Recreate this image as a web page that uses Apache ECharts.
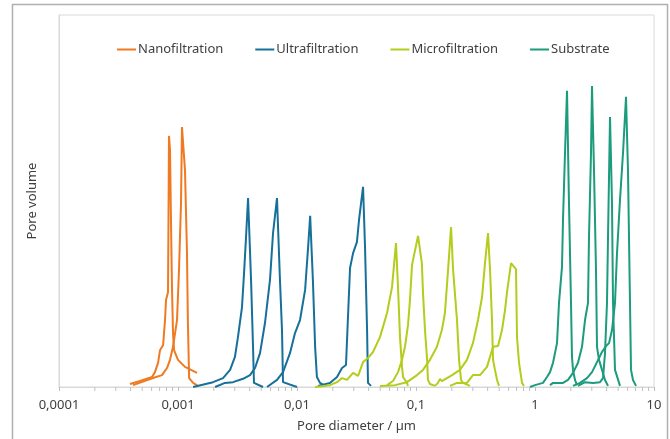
<!DOCTYPE html>
<html>
<head>
<meta charset="utf-8">
<script src="https://cdn.jsdelivr.net/npm/echarts@6/dist/echarts.min.js"></script>
<style>
  html, body { margin: 0; padding: 0; background: #fff; }
  #main { width: 670px; height: 439px; }
</style>
</head>
<body>
<div id="main"></div>
<script>
// [pore diameter in µm, pore volume (relative)]
var nano1 = [[0.000395,0.8],[0.00048,1.6],[0.000605,2.7],[0.00064,4.0],[0.00068,6.5],[0.000706,9.9],[0.00075,11.3],[0.000763,14.5],[0.000778,18.0],[0.000793,23.4],[0.000824,25.5],[0.000832,44.9],[0.00084,67.5],[0.000857,63.7],[0.000873,44.9],[0.00089,26.9],[0.000908,14.5],[0.000926,9.9],[0.001,7.3],[0.001145,5.4],[0.001445,3.8]];
var nano2 = [[0.000419,0.5],[0.000617,2.4],[0.000734,3.2],[0.000808,5.1],[0.000857,7.3],[0.000908,10.8],[0.000981,18.0],[0.00102,31.5],[0.00106,49.5],[0.00108,69.9],[0.001145,58.3],[0.00119,36.0],[0.00121,18.0],[0.00124,2.4],[0.00134,1.1],[0.00147,0.3]];

var ultra1 = [[0.00134,0],[0.00197,1.3],[0.00239,2.4],[0.00274,4.6],[0.00301,8.1],[0.00319,13.4],[0.00345,21.5],[0.00359,30.6],[0.00373,40.3],[0.00388,50.8],[0.00411,28.8],[0.00427,10.8],[0.00435,1.1],[0.00518,0]];
var ultra2 = [[0.00205,0],[0.00248,1.1],[0.0029,1.3],[0.00352,2.2],[0.00403,3.2],[0.00444,5.1],[0.00489,9.1],[0.00538,17.2],[0.00593,28.8],[0.00629,41.4],[0.00679,50.8],[0.00719,28.8],[0.00748,15.3],[0.00763,1.3],[0.01,0]];
var ultra3 = [[0.0056,0],[0.00679,1.9],[0.00763,4.0],[0.00873,9.1],[0.00962,14.5],[0.0106,18.0],[0.0117,26.1],[0.0124,37.6],[0.0129,46.0],[0.0136,28.8],[0.0142,10.8],[0.0147,2.7],[0.0156,1.1],[0.0172,0.3]];
var ultra4 = [[0.015,0.3],[0.0189,1.1],[0.0217,2.7],[0.0239,5.1],[0.0258,5.9],[0.0279,32.0],[0.0296,36.0],[0.0319,39.0],[0.0332,44.9],[0.0359,53.8],[0.0373,37.6],[0.0388,15.3],[0.0395,1.1],[0.0419,0.3]];

var micro1 = [[0.0142,0],[0.0189,0.5],[0.0217,1.3],[0.0239,2.4],[0.0263,1.9],[0.0296,3.8],[0.0326,3.0],[0.0359,6.7],[0.0395,7.8],[0.0435,9.4],[0.0498,13.4],[0.0571,19.9],[0.0629,26.9],[0.0679,38.7],[0.0706,26.9],[0.0734,13.4],[0.0763,5.4],[0.0778,2.7],[0.084,1.1],[0.0857,0.3]];
var micro2 = [[0.0571,0.5],[0.0641,1.6],[0.0706,4.0],[0.0763,7.3],[0.0808,10.8],[0.0857,16.7],[0.089,23.4],[0.0926,32.8],[0.0944,34.1],[0.104,40.6],[0.112,33.3],[0.1145,25.3],[0.119,15.3],[0.124,7.3],[0.126,1.9],[0.131,0.8],[0.1445,0.3]];
var micro3 = [[0.0498,0.3],[0.0666,0.5],[0.084,1.3],[0.102,3.2],[0.1145,4.6],[0.131,7.3],[0.150,10.8],[0.165,15.3],[0.175,19.9],[0.186,31.5],[0.197,43.0],[0.205,31.5],[0.221,18.0],[0.230,7.3],[0.239,1.9],[0.248,1.1],[0.284,0.3]];
var micro4 = [[0.1445,0.3],[0.153,1.1],[0.159,2.2],[0.165,1.6],[0.182,2.4],[0.201,3.2],[0.234,4.6],[0.268,7.3],[0.301,11.8],[0.332,18.0],[0.359,24.2],[0.380,33.3],[0.403,41.4],[0.419,31.5],[0.435,18.0],[0.444,7.3],[0.461,4.6],[0.48,1.9],[0.498,0.3]];
var micro5 = [[0.193,0.3],[0.221,1.1],[0.268,1.1],[0.301,3.2],[0.345,3.2],[0.395,5.4],[0.444,10.8],[0.489,11.0],[0.528,15.3],[0.560,20.7],[0.582,25.5],[0.629,33.3],[0.692,31.7],[0.706,13.4],[0.734,6.5],[0.778,1.1],[0.808,0.3]];

var sub1 = [[0.908,0],[1.0,0.5],[1.167,1.1],[1.261,2.7],[1.337,4.0],[1.417,6.5],[1.531,11.8],[1.591,22.6],[1.686,32.3],[1.719,44.9],[1.787,62.9],[1.858,79.6],[1.93,49.5],[2.007,22.6],[2.046,8.1],[2.086,4.6],[2.168,1.9],[2.254,0.5]];
var sub2 = [[1.337,0.5],[1.417,1.1],[1.719,1.1],[1.894,1.9],[2.086,3.8],[2.298,6.5],[2.483,10.8],[2.632,18.0],[2.789,22.6],[2.843,40.3],[2.955,62.9],[3.013,80.9],[3.132,58.3],[3.255,31.5],[3.319,10.8],[3.45,7.3],[3.656,4.6],[3.875,1.9],[4.107,0.3]];
var sub3 = [[2.298,0.3],[2.632,1.3],[3.072,1.1],[3.517,1.3],[3.728,2.4],[3.875,9.1],[4.027,22.6],[4.107,40.3],[4.269,72.6],[4.437,49.5],[4.524,22.6],[4.702,4.6],[5.18,0.3]];
var sub4 = [[2.086,0.3],[2.389,1.1],[2.735,2.4],[3.013,4.0],[3.319,6.7],[3.656,9.4],[3.95,11.0],[4.19,11.8],[4.437,15.3],[4.702,22.6],[4.888,36.0],[5.18,50.3],[5.49,62.9],[5.818,78.0],[6.045,58.3],[6.285,22.6],[6.409,4.6],[6.66,1.9],[7.06,0.3]];

var groups = ['Nanofiltration', 'Ultrafiltration', 'Microfiltration', 'Substrate'];
var colors = ['#ef7a22', '#17709a', '#b4cc1c', '#1c9b7d'];
var curves = [[nano1, nano2], [ultra1, ultra2, ultra3, ultra4], [micro1, micro2, micro3, micro4, micro5], [sub1, sub2, sub3, sub4]];
var xTickLabels = ['0,0001', '0,001', '0,01', '0,1', '1', '10'];
var decades = [0.0001, 0.001, 0.01, 0.1, 1];
var minorSteps = [2, 3, 4, 5, 6, 7, 8, 9];

var minorTicks = [];
decades.forEach(function (d) {
	minorSteps.forEach(function (m) { minorTicks.push([+(d * m).toPrecision(3)]); });
});

var series = [];
curves.forEach(function (list, i) {
	list.forEach(function (data) {
		series.push({
			name: groups[i],
			type: 'line',
			data: data,
			showSymbol: false,
			symbol: 'none',
			color: colors[i],
			lineStyle: { width: 2, color: colors[i] },
			silent: true
		});
	});
});

// log-spaced minor ticks below the x axis
series.push({
	type: 'custom',
	name: 'ticks',
	data: minorTicks,
	silent: true,
	clip: false,
	renderItem: function (params, api) {
		var p = api.coord([api.value(0), 0]);
		return {
			type: 'line',
			shape: { x1: p[0], y1: p[1], x2: p[0], y2: p[1] + 4 },
			style: { stroke: '#bfbfbf', lineWidth: 1 }
		};
	}
});

var myChart = echarts.init(document.getElementById('main'));
var option = {
	animation: false,
	textStyle: { fontFamily: 'Noto Sans' },
	graphic: [{
		type: 'rect',
		shape: { x: 12.5, y: 4.5, width: 655, height: 460 },
		style: { fill: 'none', stroke: '#b0b0b0', lineWidth: 1.5 },
		silent: true
	}],
	legend: {
		data: groups,
		top: 43,
		left: 117,
		padding: 0,
		itemGap: 32,
		itemWidth: 19,
		itemHeight: 2,
		icon: 'rect',
		textStyle: { fontSize: 13, color: '#404040', fontFamily: 'Noto Sans', padding: [0, 0, 0, -3] }
	},
	grid: {
		left: 59,
		right: 16,
		top: 15,
		bottom: 52,
		show: true,
		borderColor: '#d9d9d9',
		borderWidth: 1,
		containLabel: false
	},
	xAxis: {
		type: 'log',
		logBase: 10,
		min: 0.0001,
		max: 10,
		name: 'Pore diameter / µm',
		nameLocation: 'middle',
		nameGap: 33,
		nameTextStyle: { fontSize: 13, color: '#404040' },
		axisLine: { lineStyle: { color: '#d9d9d9' } },
		axisTick: { show: true, length: 4, lineStyle: { color: '#bfbfbf' } },
		axisLabel: {
			fontSize: 13,
			color: '#404040',
			margin: 12,
			formatter: function (v, i) { return xTickLabels[i]; }
		},
		splitLine: { show: false }
	},
	yAxis: {
		type: 'value',
		min: 0,
		max: 100,
		name: 'Pore volume',
		nameLocation: 'middle',
		nameGap: 20,
		nameTextStyle: { fontSize: 13, color: '#404040' },
		axisLine: { show: true, lineStyle: { color: '#d9d9d9' } },
		axisTick: { show: false },
		axisLabel: { show: false },
		splitLine: { show: false }
	},
	series: series
};

myChart.setOption(option);
</script>
</body>
</html>
